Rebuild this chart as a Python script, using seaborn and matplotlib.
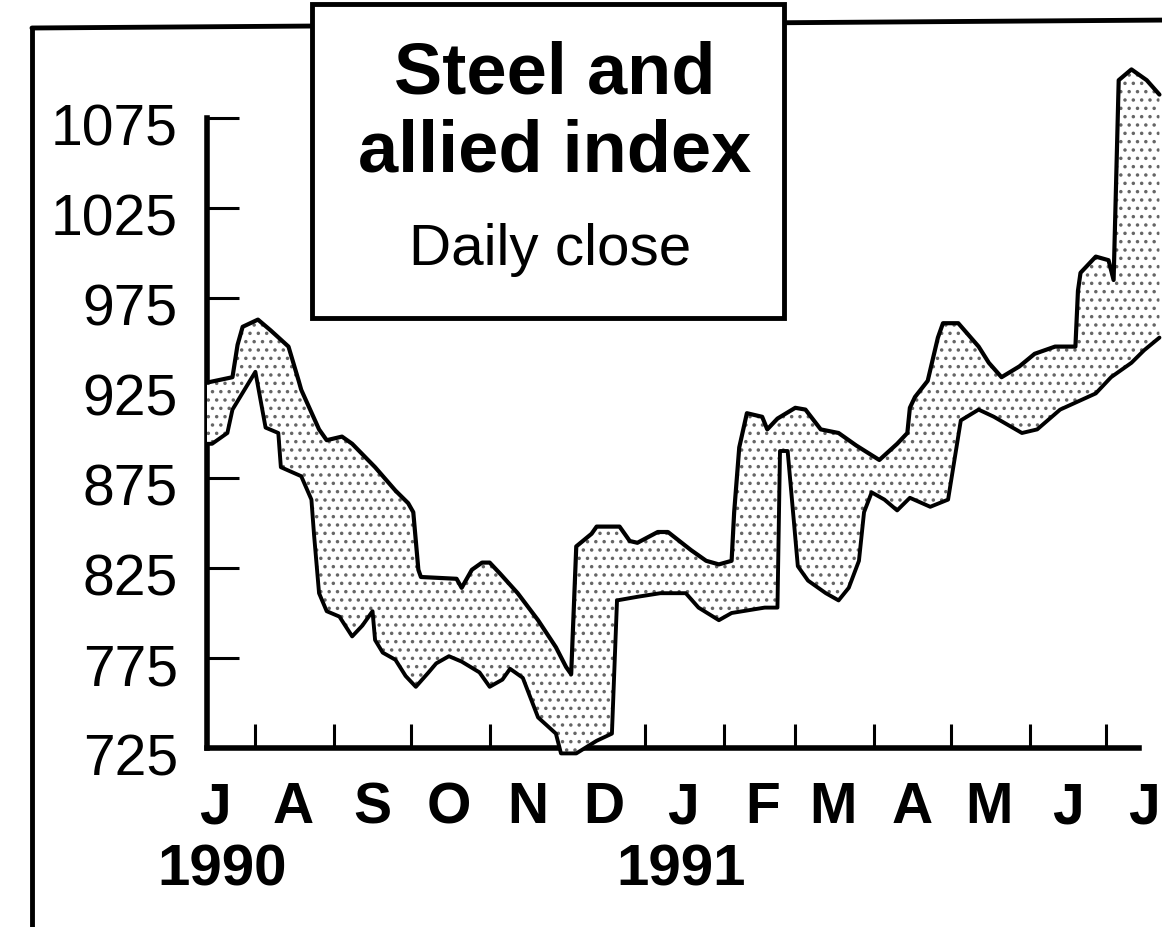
"""Steel and allied index, daily close, Jul 1990 - Jul 1991 (newspaper ribbon chart)."""

import matplotlib
matplotlib.use("Agg")
import matplotlib.dates as mdates
import matplotlib.pyplot as plt
import matplotlib.transforms as mtransforms
from matplotlib.lines import Line2D
from matplotlib.patches import Rectangle
import pandas as pd
import seaborn as sns

# upper edge of the ribbon
TOP_DATES = [
    "1990-07-13", "1990-07-23", "1990-07-25", "1990-07-27", "1990-08-02", "1990-08-07",
    "1990-08-14", "1990-08-18", "1990-08-19", "1990-08-26", "1990-08-29", "1990-09-04",
    "1990-09-08", "1990-09-17", "1990-09-25", "1990-09-30", "1990-10-02", "1990-10-04",
    "1990-10-05", "1990-10-19", "1990-10-21", "1990-10-25", "1990-10-29", "1990-11-01",
    "1990-11-05", "1990-11-12", "1990-11-20", "1990-11-27", "1990-12-01", "1990-12-03",
    "1990-12-05", "1990-12-11", "1990-12-13", "1990-12-22", "1990-12-26", "1990-12-29",
    "1991-01-06", "1991-01-10", "1991-01-19", "1991-01-25", "1991-01-30", "1991-02-04",
    "1991-02-05", "1991-02-07", "1991-02-10", "1991-02-16", "1991-02-18", "1991-02-22",
    "1991-03-01", "1991-03-05", "1991-03-11", "1991-03-18", "1991-03-25", "1991-04-03",
    "1991-04-10", "1991-04-14", "1991-04-15", "1991-04-17", "1991-04-22", "1991-04-26",
    "1991-04-28", "1991-05-04", "1991-05-12", "1991-05-16", "1991-05-21", "1991-05-28",
    "1991-06-03", "1991-06-11", "1991-06-19", "1991-06-20", "1991-06-21", "1991-06-27",
    "1991-07-02", "1991-07-04", "1991-07-06", "1991-07-11", "1991-07-17", "1991-07-22",
]
TOP_VALUES = [
    928, 931, 949, 959, 963, 957,
    948, 929, 924, 902, 896, 898,
    894, 881, 868, 861, 856, 824,
    820, 819, 814, 824, 828, 828,
    822, 811, 796, 781, 770, 766,
    837, 844, 848, 848, 840, 839,
    845, 845, 835, 829, 827, 829,
    856, 892, 911, 909, 902, 908,
    914, 913, 902, 900, 893, 885,
    894, 900, 914, 920, 929, 953,
    961, 961, 948, 939, 931, 937,
    944, 948, 948, 979, 989, 998,
    996, 985, 1096, 1102, 1096, 1088,
]

# lower (shaded) edge of the ribbon
LOW_DATES = [
    "1990-07-13", "1990-07-15", "1990-07-21", "1990-07-23", "1990-08-01", "1990-08-05",
    "1990-08-10", "1990-08-11", "1990-08-19", "1990-08-23", "1990-08-24", "1990-08-26",
    "1990-08-29", "1990-09-03", "1990-09-08", "1990-09-12", "1990-09-16", "1990-09-17",
    "1990-09-20", "1990-09-25", "1990-09-29", "1990-10-03", "1990-10-08", "1990-10-11",
    "1990-10-16", "1990-10-21", "1990-10-28", "1990-11-01", "1990-11-06", "1990-11-09",
    "1990-11-14", "1990-11-20", "1990-11-27", "1990-11-29", "1990-12-05", "1990-12-13",
    "1990-12-19", "1990-12-21", "1990-12-29", "1991-01-07", "1991-01-17", "1991-01-22",
    "1991-01-30", "1991-02-04", "1991-02-17", "1991-02-22", "1991-02-23", "1991-02-26",
    "1991-03-02", "1991-03-06", "1991-03-13", "1991-03-18", "1991-03-22", "1991-03-26",
    "1991-03-28", "1991-03-31", "1991-04-05", "1991-04-10", "1991-04-15", "1991-04-23",
    "1991-04-30", "1991-05-05", "1991-05-12", "1991-05-18", "1991-05-29", "1991-06-04",
    "1991-06-13", "1991-06-27", "1991-07-03", "1991-07-11", "1991-07-16", "1991-07-22",
]
LOW_VALUES = [
    894, 894, 900, 913, 934, 903,
    900, 881, 876, 863, 844, 811,
    801, 798, 787, 793, 801, 785,
    778, 774, 765, 759, 767, 772,
    776, 773, 767, 759, 763, 769,
    764, 742, 733, 722, 722, 729,
    733, 807, 809, 811, 811, 803,
    796, 800, 803, 803, 890, 890,
    826, 818, 811, 807, 814, 829,
    856, 867, 863, 857, 864, 859,
    863, 907, 913, 909, 900, 902,
    913, 922, 931, 939, 946, 953,
]

Y_TICKS = [725, 775, 825, 875, 925, 975, 1025, 1075]
MONTH_LETTERS = ["J", "A", "S", "O", "N", "D", "J", "F", "M", "A", "M", "J", "J"]
YEAR_LABELS = ["1990", "1991"]
YEAR_AT = ["1990-07-19", "1991-01-15"]
TITLE_LINES = ["Steel and", "allied index"]
SUBTITLE = "Daily close"

W, H = 1162, 927


def main() -> None:
    sns.set_theme(style="ticks")
    plt.rcParams["font.family"] = ["Liberation Sans", "DejaVu Sans"]
    plt.rcParams["hatch.linewidth"] = 1.3
    plt.rcParams["text.color"] = "black"

    top = pd.DataFrame({"date": pd.to_datetime(TOP_DATES), "value": TOP_VALUES})
    low = pd.DataFrame({"date": pd.to_datetime(LOW_DATES), "value": LOW_VALUES})

    fig = plt.figure(figsize=(W / 100, H / 100), dpi=100)
    fig.patch.set_facecolor("white")
    ax = fig.add_axes([207 / W, 1 - 748 / H, 1 - 207 / W, 385 * 1.8 / H])
    ax.set_facecolor("none")

    # ribbon body: upper edge forward, lower edge back
    poly_x = list(mdates.date2num(top["date"])) + list(mdates.date2num(low["date"])[::-1])
    poly_y = list(top["value"]) + list(low["value"][::-1])
    ax.fill(poly_x, poly_y, facecolor="white", edgecolor="0.4", hatch="..",
            linewidth=0, zorder=3, clip_on=False)
    sns.lineplot(data=low, x="date", y="value", estimator=None, color="black",
                 linewidth=2.8, ax=ax, zorder=4, clip_on=False)
    sns.lineplot(data=top, x="date", y="value", estimator=None, color="black",
                 linewidth=3.0, ax=ax, zorder=5, clip_on=False)

    x0 = mdates.date2num(pd.Timestamp("1990-07-13"))
    x1 = mdates.date2num(pd.Timestamp("1991-07-23"))
    ax.set_xlim(x0, x1)
    ax.set_ylim(725, 1110)
    ax.set_xlabel("")
    ax.set_ylabel("")

    for side in ("top", "right"):
        ax.spines[side].set_visible(False)
    ax.spines["left"].set_bounds(725, 1075)
    ax.spines["bottom"].set_bounds(x0, mdates.date2num(pd.Timestamp("1991-07-14")))
    for side in ("left", "bottom"):
        ax.spines[side].set_linewidth(4)
        ax.spines[side].set_color("black")

    ax.set_yticks(Y_TICKS)
    ax.set_yticklabels([str(v) for v in Y_TICKS])
    ax.tick_params(axis="y", left=True, direction="in", length=23, width=2.2,
                   colors="black", labelsize=41, pad=21)

    month_starts = mdates.date2num(pd.date_range("1990-08-01", periods=12, freq="MS"))
    mid_months = mdates.date2num(
        pd.date_range("1990-07-01", periods=13, freq="MS") + pd.Timedelta(days=15))
    ax.set_xticks(month_starts)
    ax.set_xticklabels([""] * len(month_starts))
    ax.set_xticks(mid_months, minor=True)
    ax.set_xticklabels(MONTH_LETTERS, minor=True, fontweight="bold")
    ax.tick_params(axis="x", which="major", bottom=True, direction="in", length=17,
                   width=2.2, colors="black")
    ax.tick_params(axis="x", which="minor", bottom=True, length=0, labelsize=41,
                   pad=24, labelcolor="black")

    shift = mtransforms.ScaledTranslation(0, -7 / 100, fig.dpi_scale_trans)
    for lbl in ax.get_yticklabels():
        lbl.set_transform(lbl.get_transform() + shift)

    xt = ax.get_xaxis_transform()
    for text, when in zip(YEAR_LABELS, YEAR_AT):
        ax.text(mdates.date2num(pd.Timestamp(when)), -(870 - 748) / 693, text, transform=xt,
                ha="center", va="center", fontsize=42, fontweight="bold", color="black")

    # outer frame (cropped on the right and bottom)
    fx = 32 / W
    fig.add_artist(Line2D([fx, fx], [-0.02, 1 - 28 / H], color="black", lw=3.5, zorder=1))
    fig.add_artist(Line2D([fx, 1.01], [1 - 28 / H, 1 - 20 / H], color="black", lw=3.5, zorder=1))

    # title box
    box = Rectangle((312 / W, 1 - 318 / H), (784 - 312) / W, (318 - 4) / H,
                    transform=fig.transFigure, facecolor="white", edgecolor="black",
                    linewidth=3.5, zorder=10)
    fig.add_artist(box)
    fig.text(555 / W, 1 - 75 / H, TITLE_LINES[0], ha="center", va="center",
             fontsize=52, fontweight="bold", color="black", zorder=11)
    fig.text(555 / W, 1 - 153 / H, TITLE_LINES[1], ha="center", va="center",
             fontsize=52, fontweight="bold", color="black", zorder=11)
    fig.text(550 / W, 1 - 250 / H, SUBTITLE, ha="center", va="center",
             fontsize=42, color="black", zorder=11)

    fig.savefig("out.png", dpi=100, facecolor="white")
    plt.close(fig)


if __name__ == "__main__":
    main()
